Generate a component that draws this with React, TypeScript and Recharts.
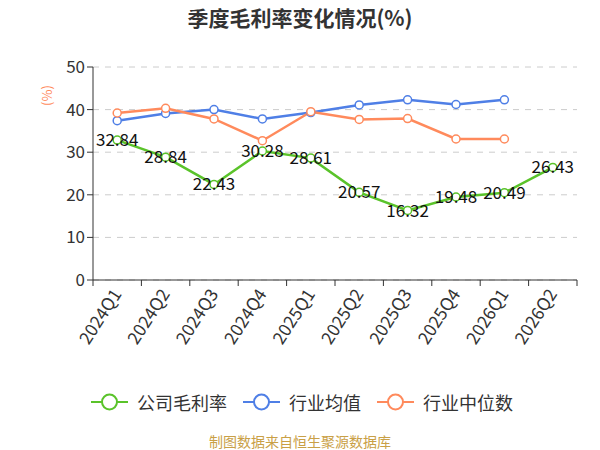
import React from "react";
import { LineChart, Line, XAxis, YAxis, CartesianGrid, LabelList } from "recharts";

const categories = ["2024Q1", "2024Q2", "2024Q3", "2024Q4", "2025Q1", "2025Q2", "2025Q3", "2025Q4", "2026Q1", "2026Q2"];
const companyMargin = [32.84, 28.84, 22.43, 30.28, 28.61, 20.57, 16.32, 19.48, 20.49, 26.43];
const industryMean = [37.4, 39.1, 40.0, 37.8, 39.3, 41.1, 42.3, 41.2, 42.3, null];
const industryMedian = [39.2, 40.3, 37.8, 32.7, 39.5, 37.7, 37.9, 33.1, 33.1, null];
const yTicks = [0, 10, 20, 30, 40, 50];

const GREEN = "#5ac32a";
const BLUE = "#4f7fe6";
const ORANGE = "#ff8a5c";
const FONT = "'Noto Sans CJK SC', 'Noto Sans', sans-serif";

const data = categories.map((c, i) => ({
  name: c,
  company: companyMargin[i],
  mean: industryMean[i],
  median: industryMedian[i],
}));

const BAND = 484 / categories.length;

const XTick = (props: any) => {
  const { x, y, payload, index } = props;
  const last = index === categories.length - 1;
  return (
    <g>
      <line x1={x - BAND / 2} y1={y - 8} x2={x - BAND / 2} y2={y - 2} stroke="#333" strokeWidth={1} />
      {last && <line x1={x + BAND / 2} y1={y - 8} x2={x + BAND / 2} y2={y - 2} stroke="#333" strokeWidth={1} />}
      <text
        x={x + 5}
        y={y + 6}
        textAnchor="end"
        fontSize={17.5}
        fill="#333"
        fontFamily={FONT}
        transform={`rotate(-57 ${x + 5} ${y + 6})`}
      >
        {payload.value}
      </text>
    </g>
  );
};

const LegendItem = ({ color, label }: { color: string; label: string }) => (
  <div style={{ display: "flex", alignItems: "center", marginRight: 16 }}>
    <svg width={37} height={20} style={{ marginRight: 9 }}>
      <line x1={0} y1={10} x2={37} y2={10} stroke={color} strokeWidth={2} />
      <circle cx={18.5} cy={10} r={7.5} fill="#fff" stroke={color} strokeWidth={2} />
    </svg>
    <span style={{ fontSize: 18, lineHeight: "20px", color: "#333", fontFamily: FONT }}>{label}</span>
  </div>
);

export default function App() {
  return (
    <div style={{ position: "absolute", left: 0, top: 0, width: 600, height: 450, background: "#fff", fontFamily: FONT }}>
      <div
        style={{
          position: "absolute",
          top: 2,
          left: 0,
          width: 600,
          textAlign: "center",
          fontSize: 21,
          fontWeight: "bold",
          color: "#333",
        }}
      >
        季度毛利率变化情况(%)
      </div>
      <div
        style={{
          position: "absolute",
          left: 36,
          top: 86,
          transform: "rotate(-90deg)",
          fontSize: 13,
          color: ORANGE,
        }}
      >
        (%)
      </div>
      <LineChart
        width={600}
        height={450}
        data={data}
        margin={{ top: 67, right: 23, left: 0, bottom: 90 }}
      >
        <CartesianGrid vertical={false} stroke="#ccc" strokeDasharray="6 6" />
        <XAxis
          dataKey="name"
          stroke="#333"
          tickLine={false}
          tick={<XTick />}
          interval={0}
          height={80}
          padding={{ left: BAND / 2, right: BAND / 2 }}
        />
        <YAxis
          domain={[0, 50]}
          ticks={yTicks}
          width={93}
          stroke="#333"
          tick={{ fontSize: 17, fill: "#333", fontFamily: FONT }}
          tickSize={6}
        />
        <Line
          dataKey="mean"
          stroke={BLUE}
          strokeWidth={2.5}
          dot={{ r: 4, fill: "#fff", stroke: BLUE, strokeWidth: 1.5 }}
          isAnimationActive={false}
        />
        <Line
          dataKey="median"
          stroke={ORANGE}
          strokeWidth={2.5}
          dot={{ r: 4, fill: "#fff", stroke: ORANGE, strokeWidth: 1.5 }}
          isAnimationActive={false}
        />
        <Line
          dataKey="company"
          stroke={GREEN}
          strokeWidth={2.5}
          dot={{ r: 4, fill: "#fff", stroke: GREEN, strokeWidth: 1.5 }}
          isAnimationActive={false}
        >
          <LabelList
            dataKey="company"
            position="center"
            fontSize={17}
            fill="#111"
            fontFamily={FONT}
          />
        </Line>
      </LineChart>
      <div
        style={{
          position: "absolute",
          top: 392,
          left: 91,
          display: "flex",
          alignItems: "center",
        }}
      >
        <LegendItem color={GREEN} label="公司毛利率" />
        <LegendItem color={BLUE} label="行业均值" />
        <LegendItem color={ORANGE} label="行业中位数" />
      </div>
      <div
        style={{
          position: "absolute",
          top: 431,
          left: 0,
          width: 600,
          textAlign: "center",
          fontSize: 14,
          color: "#c9a046",
        }}
      >
        制图数据来自恒生聚源数据库
      </div>
    </div>
  );
}
